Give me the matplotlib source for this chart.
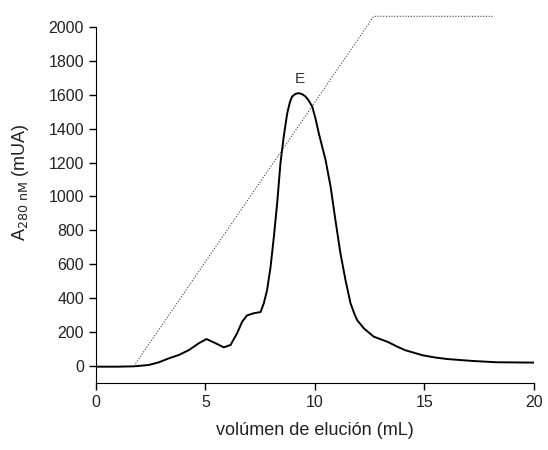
import matplotlib.pyplot as plt

plt.rcParams['font.family'] = ['Liberation Sans', 'DejaVu Sans']

# absorbance trace (mL, mUA)
vol = [0, 1.0, 1.74, 2.42, 2.88, 3.33, 3.79, 4.25, 4.70, 5.05, 5.47, 5.84,
       6.15, 6.45, 6.68, 6.9, 7.21, 7.52, 7.67, 7.82, 7.98, 8.13, 8.28, 8.43,
       8.58, 8.74, 8.86, 8.96, 9.12, 9.27, 9.42, 9.58, 9.72, 9.88, 10.03,
       10.18, 10.49, 10.72, 10.94, 11.17, 11.40, 11.63, 11.8, 11.93, 12.24,
       12.69, 13.33, 13.8, 14.13, 14.93, 15.5, 16.05, 17.17, 18.3, 20]
abs280 = [-4, -4, -2, 6, 22, 45, 65, 94, 134, 159, 134, 110,
          124, 193, 261, 298, 311, 318, 370, 448, 586, 763, 960, 1196,
          1353, 1491, 1555, 1589, 1605, 1609, 1603, 1589, 1565, 1530, 1460,
          1373, 1215, 1058, 861, 665, 507, 370, 310, 271, 222,
          173, 142, 112, 93, 63, 50, 41, 30, 22, 20]

# gradient (dotted)
grad_x = [1.74, 12.69, 18.13]
grad_y = [0, 2062, 2062]

fig = plt.figure(figsize=(5.48, 4.5), dpi=100)
ax = fig.add_axes([0.175, 0.149, 0.799, 0.829])

ax.plot(grad_x, grad_y, color='#444444', lw=0.8, ls=(0, (1, 1.5)))
ax.plot(vol, abs280, color='black', lw=1.4, solid_joinstyle='round')
ax.text(9.3, 1690, 'E', ha='center', va='center', fontsize=11, color='#333333')

ax.set_xlim(0, 20)
ax.set_ylim(-100, 2100)
ax.set_xticks([0, 5, 10, 15, 20])
ax.set_yticks(range(0, 2001, 200))
ax.spines['top'].set_visible(False)
ax.spines['right'].set_visible(False)
ax.spines['left'].set_bounds(-100, 2000)
ax.tick_params(direction='out', length=5, width=1, labelsize=11.5, colors='black',
               labelcolor='#222222')

ax.set_xlabel('volúmen de elución (mL)', fontsize=13, color='#222222', labelpad=9)
fig.text(0.038, 0.595, 'A$_{280\\ \\mathrm{nM}}$ (mUA)', rotation=90,
         ha='center', va='center', fontsize=13, color='#222222')

fig.savefig('out.png', dpi=100)
